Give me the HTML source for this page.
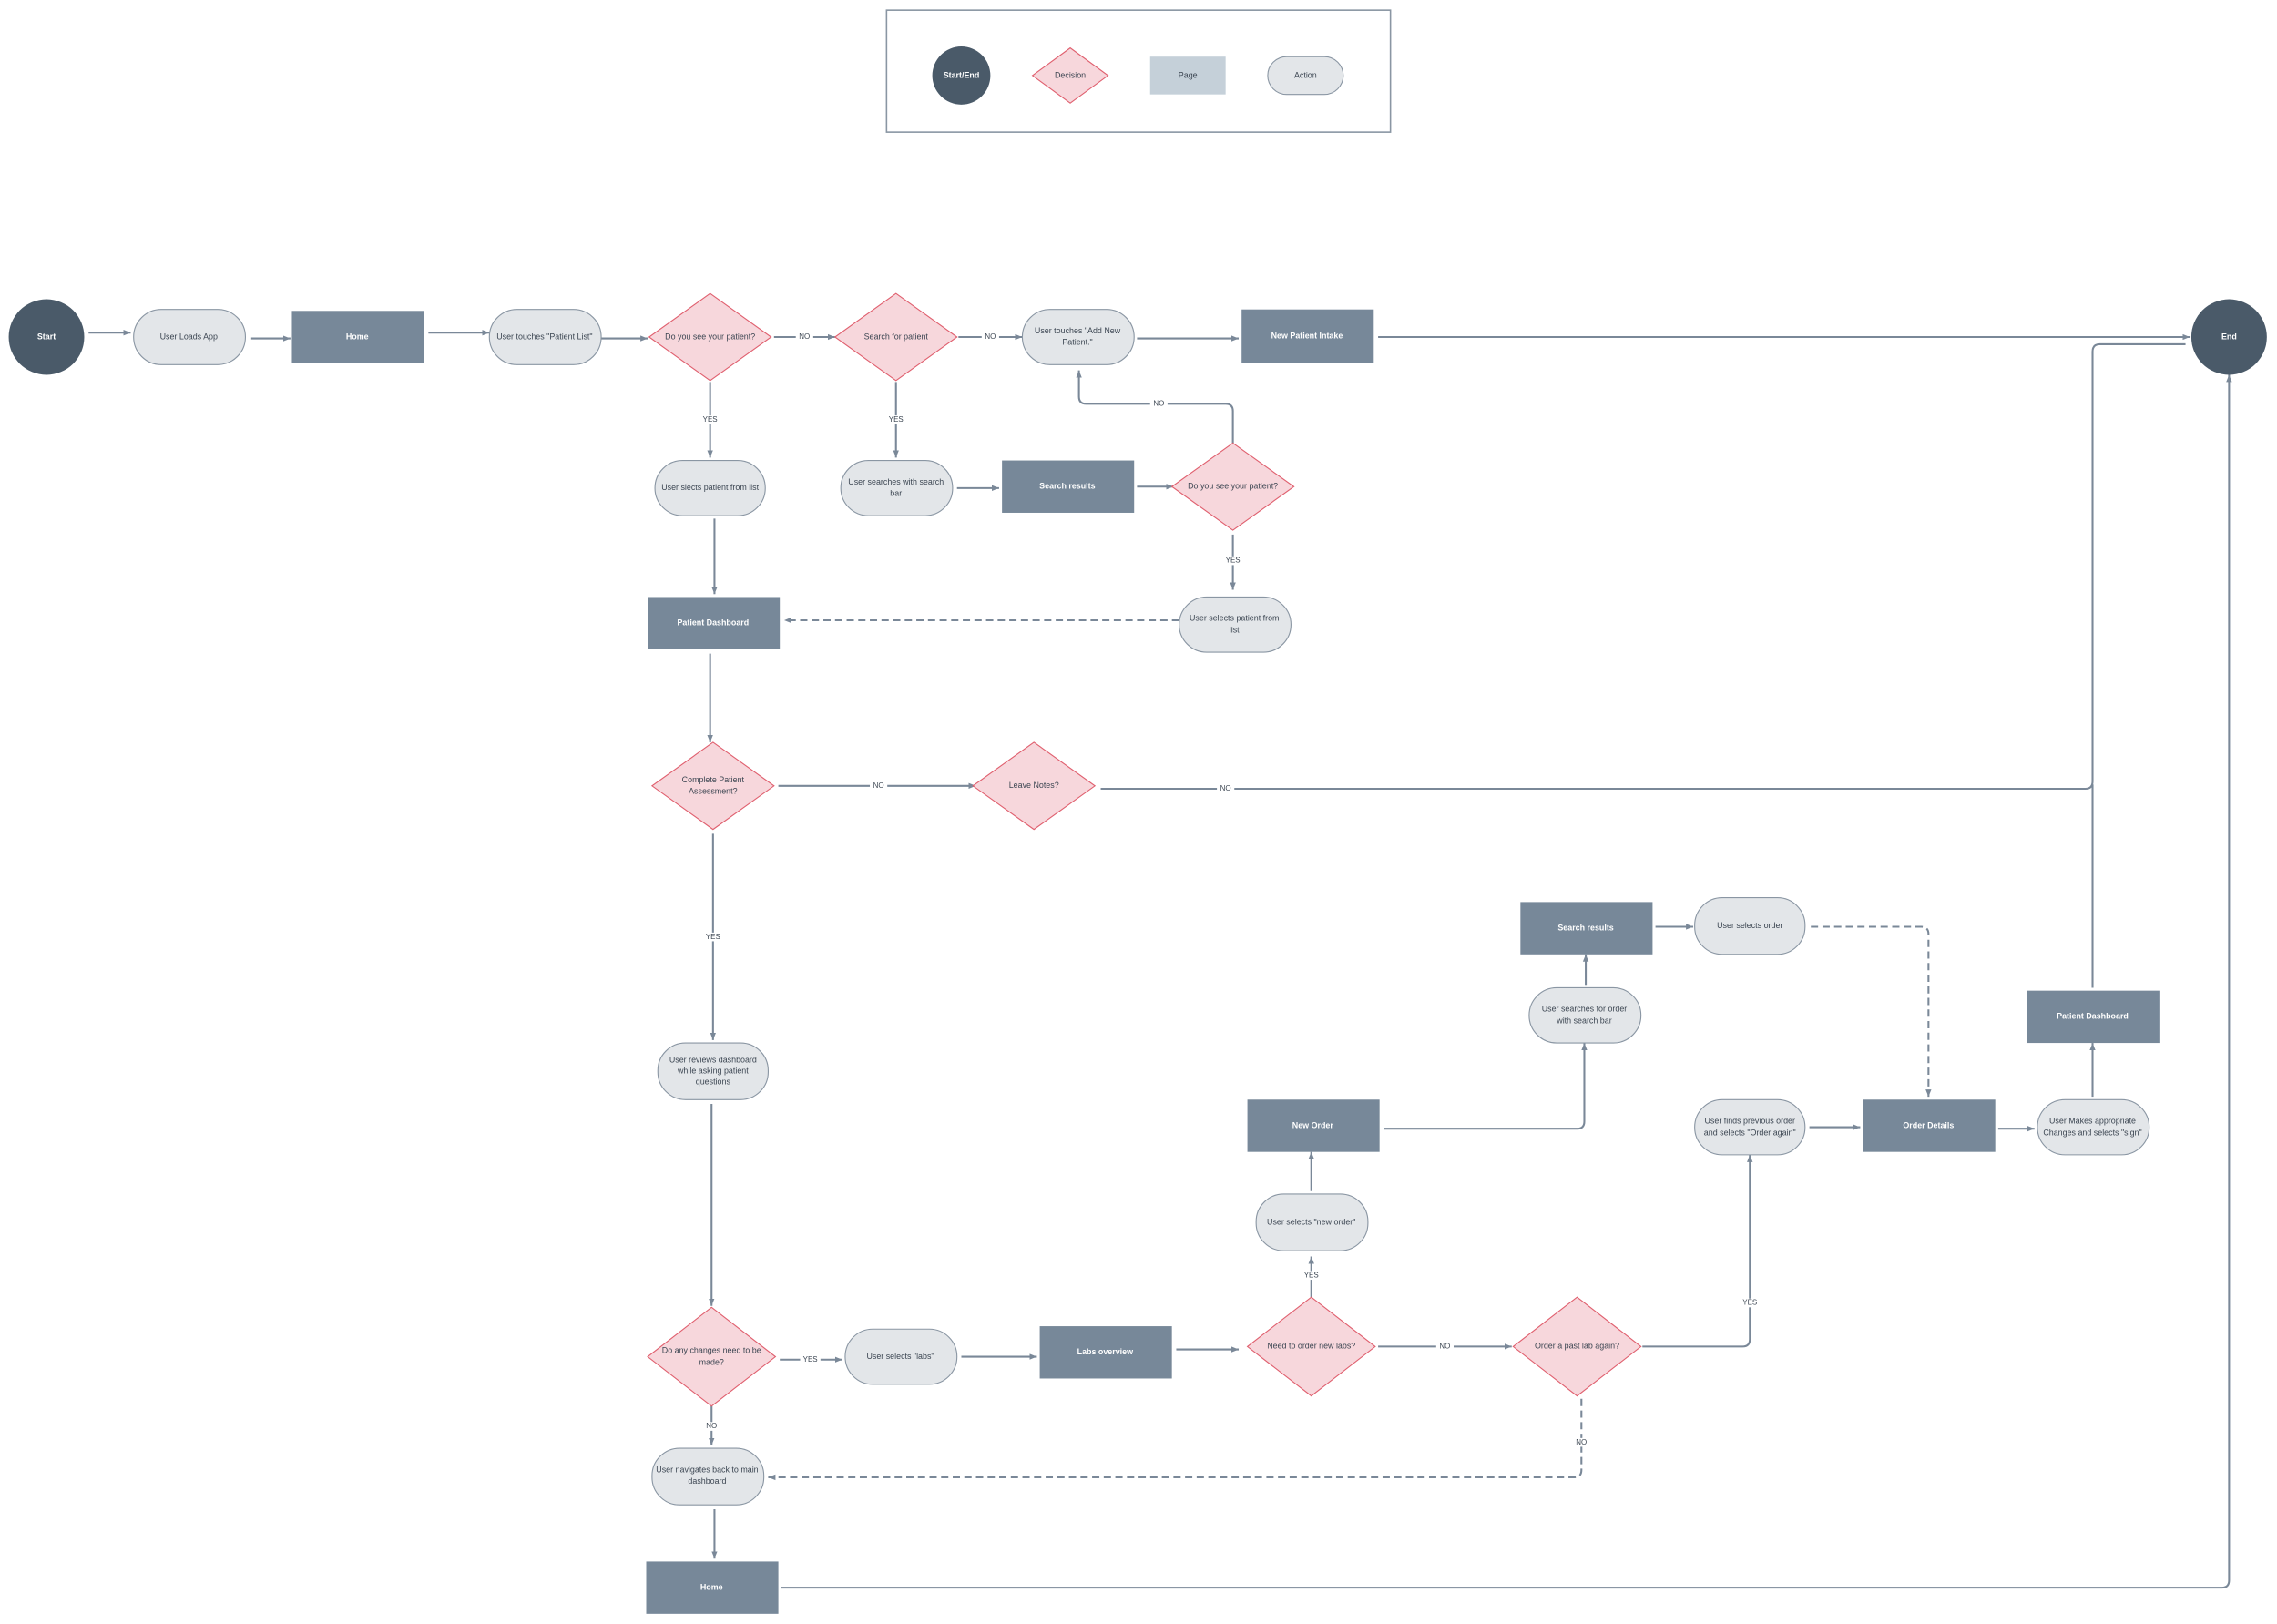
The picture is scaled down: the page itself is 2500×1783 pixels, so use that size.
<!DOCTYPE html>
<html><head><meta charset="utf-8"><style>
html,body{margin:0;padding:0;background:#fff;}
svg{display:block;}
text{font-family:"Liberation Sans",sans-serif;font-size:5.6px;fill:#3c4652;text-anchor:middle;dominant-baseline:middle;}
.w{fill:#fff;font-weight:bold;}
.pill{fill:#e3e6e9;stroke:#8a96a3;stroke-width:0.7;}
.page{fill:#778899;}
.dia{fill:#f7d7dc;stroke:#e0606f;stroke-width:0.7;}
.ln{fill:none;stroke:#7a8898;stroke-width:1.3;}
.ds{fill:none;stroke:#7a8898;stroke-width:1.3;stroke-dasharray:5 3;}
.lb{font-size:5px;}
.lbg{fill:#fff;}
</style></head><body>
<svg width="2500" height="1783" viewBox="0 0 1568 1118" preserveAspectRatio="none" xmlns="http://www.w3.org/2000/svg">
<defs><marker id="a" markerWidth="6" markerHeight="6" refX="5" refY="3" orient="auto" markerUnits="userSpaceOnUse"><path d="M0,1 L5,3 L0,5 z" fill="#7a8898"/></marker></defs>

<!-- legend -->
<rect x="610.5" y="7" width="347" height="84" fill="#fff" stroke="#8a96a3" stroke-width="1"/>
<circle cx="662" cy="52" r="20" fill="#4a5a69"/><text x="662" y="52" class="w">Start/End</text>
<polygon class="dia" points="737,33 763,52 737,71 711,52"/><text x="737" y="52">Decision</text>
<rect x="792" y="39" width="52" height="26" fill="#c5d0d9"/><text x="818" y="52">Page</text>
<rect class="pill" x="873" y="39" width="52" height="26" rx="13"/><text x="899" y="52">Action</text>

<!-- connectors -->
<g class="ln" marker-end="url(#a)">
<path d="M61,229 H90"/>
<path d="M173,233 H200"/>
<path d="M295,229 H337"/>
<path d="M414,233 H446"/>
<path d="M533,232 H575"/>
<path d="M660,232 H704"/>
<path d="M783,233 H853"/>
<path d="M949,232 H1508"/>
<path d="M489,263 V315"/>
<path d="M617,263 V315"/>
<path d="M659,336 H688"/>
<path d="M783,335 H808"/>
<path d="M849,305 V283 Q849,278 844,278 H748 Q743,278 743,273 V255"/>
<path d="M849,368 V406"/>
<path d="M492,357 V409"/>
<path d="M489,450 V511"/>
<path d="M536,541 H672"/>
<path d="M491,574 V716"/>
<path d="M490,760 V899"/>
<path d="M537,936 H580"/>
<path d="M662,934 H714"/>
<path d="M810,929 H853"/>
<path d="M949,927 H1041"/>
<path d="M1131,927 H1200 Q1205,927 1205,922 V795"/>
<path d="M1246,776 H1281"/>
<path d="M1376,777 H1401"/>
<path d="M1441,755 V718"/>
<path d="M903,893 V865"/>
<path d="M903,820 V793"/>
<path d="M953,777 H1086 Q1091,777 1091,772 V718"/>
<path d="M1092,678 V657"/>
<path d="M1140,638 H1166"/>
<path d="M490,968 V995"/>
<path d="M492,1039 V1073"/>
<path d="M538,1093 H1530 Q1535,1093 1535,1088 V258"/>
</g>
<g class="ln">
<path d="M758,543 H1436 Q1441,543 1441,538 V242 Q1441,237 1446,237 H1505"/>
<path d="M1441,680 V540"/>
</g>
<g class="ds" marker-end="url(#a)">
<path d="M812,427 H540"/>
<path d="M1247,638 H1323 Q1328,638 1328,643 V755"/>
<path d="M1089,963 V1012 Q1089,1017 1084,1017 H529"/>
</g>

<!-- labels on lines -->
<g>
<rect class="lbg" x="548" y="229" width="12" height="6"/><text class="lb" x="554" y="232">NO</text>
<rect class="lbg" x="676" y="229" width="12" height="6"/><text class="lb" x="682" y="232">NO</text>
<rect class="lbg" x="792" y="275" width="12" height="6"/><text class="lb" x="798" y="278">NO</text>
<rect class="lbg" x="599" y="538" width="12" height="6"/><text class="lb" x="605" y="541">NO</text>
<rect class="lbg" x="838" y="540" width="12" height="6"/><text class="lb" x="844" y="543">NO</text>
<rect class="lbg" x="989" y="924" width="12" height="6"/><text class="lb" x="995" y="927">NO</text>
<rect class="lbg" x="1083" y="990" width="12" height="6"/><text class="lb" x="1089" y="993">NO</text>
<rect class="lbg" x="484" y="979" width="12" height="6"/><text class="lb" x="490" y="982">NO</text>
<rect class="lbg" x="482" y="286" width="14" height="6"/><text class="lb" x="489" y="289">YES</text>
<rect class="lbg" x="610" y="286" width="14" height="6"/><text class="lb" x="617" y="289">YES</text>
<rect class="lbg" x="842" y="383" width="14" height="6"/><text class="lb" x="849" y="386">YES</text>
<rect class="lbg" x="484" y="642" width="14" height="6"/><text class="lb" x="491" y="645">YES</text>
<rect class="lbg" x="551" y="933" width="14" height="6"/><text class="lb" x="558" y="936">YES</text>
<rect class="lbg" x="896" y="875" width="14" height="6"/><text class="lb" x="903" y="878">YES</text>
<rect class="lbg" x="1198" y="894" width="14" height="6"/><text class="lb" x="1205" y="897">YES</text>
</g>

<!-- nodes -->
<circle cx="32" cy="232" r="26" fill="#4a5a69"/><text x="32" y="232" class="w">Start</text>
<circle cx="1535" cy="232" r="26" fill="#4a5a69"/><text x="1535" y="232" class="w">End</text>

<rect class="pill" x="92" y="213" width="77" height="38" rx="19"/><text x="130" y="232">User Loads App</text>
<rect class="page" x="201" y="214" width="91" height="36"/><text x="246" y="232" class="w">Home</text>
<rect class="pill" x="337" y="213" width="77" height="38" rx="19"/><text x="375" y="232">User touches "Patient List"</text>
<polygon class="dia" points="489,202 531,232 489,262 447,232"/><text x="489" y="232">Do you see your patient?</text>
<polygon class="dia" points="617,202 659,232 617,262 575,232"/><text x="617" y="232">Search for patient</text>
<rect class="pill" x="704" y="213" width="77" height="38" rx="19"/><text x="742" y="228">User touches "Add New</text><text x="742" y="236">Patient."</text>
<rect class="page" x="855" y="213" width="91" height="37"/><text x="900" y="231.5" class="w">New Patient Intake</text>

<rect class="pill" x="451" y="317" width="76" height="38" rx="19"/><text x="489" y="336">User slects patient from list</text>
<rect class="pill" x="579" y="317" width="77" height="38" rx="19"/><text x="617" y="332">User searches with search</text><text x="617" y="340">bar</text>
<rect class="page" x="690" y="317" width="91" height="36"/><text x="735" y="335" class="w">Search results</text>
<polygon class="dia" points="849,305 891,335 849,365 807,335"/><text x="849" y="335">Do you see your patient?</text>
<rect class="pill" x="812" y="411" width="77" height="38" rx="19"/><text x="850" y="426">User selects patient from</text><text x="850" y="434">list</text>
<rect class="page" x="446" y="411" width="91" height="36"/><text x="491" y="429" class="w">Patient Dashboard</text>

<polygon class="dia" points="491,511 533,541 491,571 449,541"/><text x="491" y="537">Complete Patient</text><text x="491" y="545">Assessment?</text>
<polygon class="dia" points="712,511 754,541 712,571 670,541"/><text x="712" y="541">Leave Notes?</text>

<rect class="pill" x="453" y="718" width="76" height="39" rx="19"/><text x="491" y="730">User reviews dashboard</text><text x="491" y="737.5">while asking patient</text><text x="491" y="745">questions</text>
<polygon class="dia" points="490,900 534,934 490,968 446,934"/><text x="490" y="930">Do any changes need to be</text><text x="490" y="938">made?</text>
<rect class="pill" x="582" y="915" width="77" height="38" rx="19"/><text x="620" y="934">User selects "labs"</text>
<rect class="page" x="716" y="913" width="91" height="36"/><text x="761" y="931" class="w">Labs overview</text>
<polygon class="dia" points="903,893 947,927 903,961 859,927"/><text x="903" y="927">Need to order new labs?</text>
<polygon class="dia" points="1086,893 1130,927 1086,961 1042,927"/><text x="1086" y="927">Order a past lab again?</text>
<rect class="pill" x="865" y="822" width="77" height="39" rx="19"/><text x="903" y="841.5">User selects "new order"</text>
<rect class="page" x="859" y="757" width="91" height="36"/><text x="904" y="775" class="w">New Order</text>
<rect class="pill" x="1053" y="680" width="77" height="38" rx="19"/><text x="1091" y="695">User searches for order</text><text x="1091" y="703">with search bar</text>
<rect class="page" x="1047" y="621" width="91" height="36"/><text x="1092" y="639" class="w">Search results</text>
<rect class="pill" x="1167" y="618" width="76" height="39" rx="19"/><text x="1205" y="637.5">User selects order</text>
<rect class="pill" x="1167" y="757" width="76" height="38" rx="19"/><text x="1205" y="772">User finds previous order</text><text x="1205" y="780">and selects "Order again"</text>
<rect class="page" x="1283" y="757" width="91" height="36"/><text x="1328" y="775" class="w">Order Details</text>
<rect class="pill" x="1403" y="757" width="77" height="38" rx="19"/><text x="1441" y="772">User Makes appropriate</text><text x="1441" y="780">Changes and selects "sign"</text>
<rect class="page" x="1396" y="682" width="91" height="36"/><text x="1441" y="700" class="w">Patient Dashboard</text>

<rect class="pill" x="449" y="997" width="77" height="39" rx="19"/><text x="487" y="1012">User navigates back to main</text><text x="487" y="1020">dashboard</text>
<rect class="page" x="445" y="1075" width="91" height="36"/><text x="490" y="1093" class="w">Home</text>
</svg>
</body></html>
